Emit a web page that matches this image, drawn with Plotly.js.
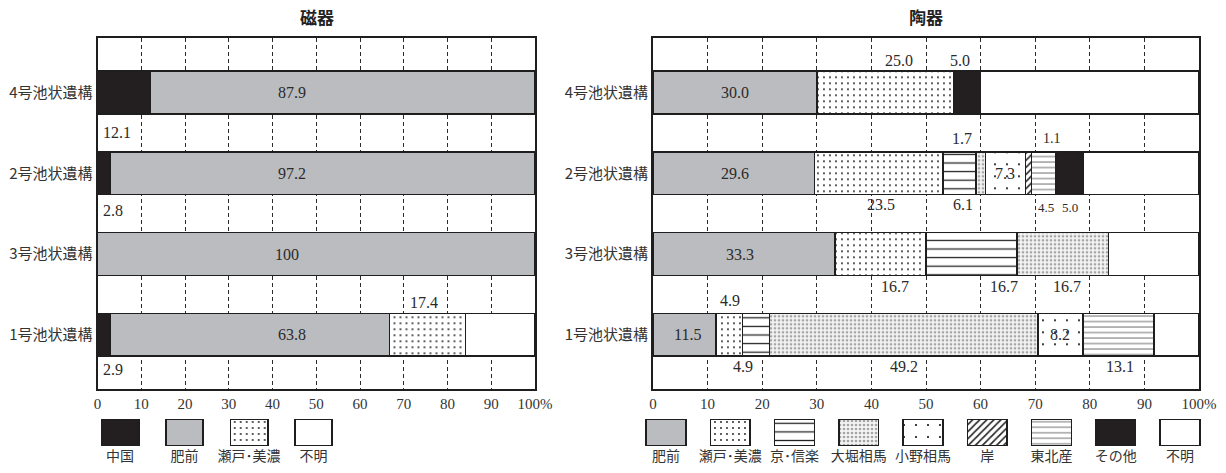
<!DOCTYPE html>
<html>
<head>
<meta charset="utf-8">
<script src="https://cdn.plot.ly/plotly-3.0.1.min.js"></script>
<style>html,body{margin:0;padding:0;background:#fff;}#chart{width:1226px;height:473px;}</style>
</head>
<body>
<div id="chart"></div>
<script>
// ---------- data ----------
const categories = ['4号池状遺構', '2号池状遺構', '3号池状遺構', '1号池状遺構'];
const xTickVals = [0, 10, 20, 30, 40, 50, 60, 70, 80, 90, 100];
const xTickText = ['0', '10', '20', '30', '40', '50', '60', '70', '80', '90', '100%'];

// 磁器 (left)
const leftTitle = '磁器';
const leftSeries = ['中国', '肥前', '瀬戸･美濃', '不明'];
const chugokuL = [12.1, 2.8, null, 2.9];
const hizenL   = [87.9, 97.2, 100, 63.8];
const setoL    = [null, null, null, 17.4];
const fumeiL   = [null, null, null, 15.9];
const leftValues = [chugokuL, hizenL, setoL, fumeiL];

// 陶器 (right)
const rightTitle = '陶器';
const rightSeries = ['肥前', '瀬戸･美濃', '京･信楽', '大堀相馬', '小野相馬', '岸', '東北産', 'その他', '不明'];
const hizenR   = [30.0, 29.6, 33.3, 11.5];
const setoR    = [25.0, 23.5, 16.7, 4.9];
const kyoR     = [null, 6.1, 16.7, 4.9];
const ohoriR   = [null, 1.7, 16.7, 49.2];
const onoR     = [null, 7.3, null, 8.2];
const kishiR   = [null, 1.1, null, null];
const tohokuR  = [null, 4.5, null, 13.1];
const sonotaR  = [5.0, 5.0, null, null];
const fumeiR   = [40.0, 21.2, 16.6, 8.2];
const rightValues = [hizenR, setoR, kyoR, ohoriR, onoR, kishiR, tohokuR, sonotaR, fumeiR];

// ---------- styles ----------
const LINE = {color: '#1e1e1e', width: 1.6};
function pat(shape, size, solidity, fg, bg) {
  return {shape: shape, size: size, solidity: solidity, fgcolor: fg, bgcolor: bg || '#ffffff', fillmode: 'replace'};
}
const styles = {
  '中国':     {color: '#231f20'},
  '肥前':     {color: '#bbbcc0'},
  '瀬戸･美濃': {color: '#ffffff', pattern: pat('.', 6, 0.08, '#222')},
  '京･信楽':   {color: '#ffffff', pattern: pat('-', 8.6, 0.15, '#222')},
  '大堀相馬':  {color: '#f2f2f2', pattern: pat('.', 4, 0.35, '#a5a5a5', '#f4f4f4')},
  '小野相馬':  {color: '#ffffff', pattern: pat('.', 12, 0.025, '#111')},
  '岸':       {color: '#ffffff', pattern: pat('/', 5, 0.32, '#222')},
  '東北産':    {color: '#ffffff', pattern: pat('-', 5.5, 0.15, '#555')},
  'その他':    {color: '#231f20'},
  '不明':     {color: '#ffffff'}
};
function marker(name) {
  const s = styles[name];
  const m = {color: s.color, line: LINE};
  if (s.pattern) m.pattern = s.pattern;
  return m;
}

// ---------- traces ----------
const traces = [];
leftSeries.forEach((name, i) => {
  traces.push({type: 'bar', orientation: 'h', name: name, x: leftValues[i], y: categories,
    xaxis: 'x', yaxis: 'y', width: 0.53, marker: marker(name), hoverinfo: 'x+name', showlegend: false});
});
rightSeries.forEach((name, i) => {
  traces.push({type: 'bar', orientation: 'h', name: name, x: rightValues[i], y: categories,
    xaxis: 'x2', yaxis: 'y2', width: 0.53, marker: marker(name), hoverinfo: 'x+name', showlegend: false});
});
// legend swatches as small bar charts
leftSeries.forEach((name) => {
  traces.push({type: 'bar', x: [name], y: [1], xaxis: 'x3', yaxis: 'y3', width: 0.58,
    marker: marker(name), hoverinfo: 'skip', showlegend: false});
});
rightSeries.forEach((name) => {
  traces.push({type: 'bar', x: [name], y: [1], xaxis: 'x4', yaxis: 'y4', width: 0.62,
    marker: marker(name), hoverinfo: 'skip', showlegend: false});
});

// ---------- layout ----------
const W = 1226, H = 473;
const px = v => v / W;
const py = v => 1 - v / H;
const numFont = {family: 'Liberation Serif, DejaVu Serif, serif', size: 16, color: '#2a2a2a'};
const jpFont = {family: 'Noto Sans CJK JP, sans-serif', size: 15, color: '#333'};

function mainX(domain) {
  return {domain: domain, range: [0, 100], tickvals: xTickVals, ticktext: xTickText,
    showgrid: true, gridcolor: '#2a2a2a', gridwidth: 1, griddash: '4px,3px', zeroline: false,
    showline: true, linecolor: '#1e1e1e', linewidth: 2, mirror: true, ticks: '',
    tickfont: {family: 'Liberation Serif, DejaVu Serif, serif', size: 15, color: '#333'}, fixedrange: true};
}
function mainY(domain, anchor) {
  return {domain: domain, type: 'category', categoryorder: 'array', categoryarray: categories,
    range: [3.67, -0.67], showgrid: false, zeroline: false, showline: true, linecolor: '#1e1e1e',
    linewidth: 2, mirror: true, ticks: '', tickfont: jpFont, anchor: anchor, fixedrange: true};
}
const yDom = [py(389), py(38.3)];
const legYDom = [py(446), py(419)];

function fmt(v) { return v === 100 ? '100' : v.toFixed(1); }
// value labels: [value, x position (data units), row position (category index)]
const labelsL = [
  [hizenL[0], 44.5, 0], [hizenL[1], 44.5, 1], [hizenL[2], 43.4, 2], [hizenL[3], 44.5, 3],
  [setoL[3], 74.7, 2.6]
];
const labelsLLeft = [[chugokuL[0], 0.7, 0.49], [chugokuL[1], 0.9, 1.46], [chugokuL[3], 0.9, 3.43]];
const labelsR = [
  [hizenR[0], 15, 0], [setoR[0], 45, -0.4], [sonotaR[0], 56.3, -0.4],
  [hizenR[1], 15, 1], [ohoriR[1], 56.6, 0.57], [onoR[1], 64.5, 1],
  [setoR[1], 41.8, 1.39], [kyoR[1], 56.7, 1.39],
  [hizenR[2], 16, 2], [setoR[2], 44.3, 2.4], [kyoR[2], 64.3, 2.4], [ohoriR[2], 75.9, 2.4],
  [setoR[3], 14.1, 2.58], [hizenR[3], 6.3, 3], [onoR[3], 74.5, 3],
  [kyoR[3], 16.4, 3.39], [ohoriR[3], 46, 3.39], [tohokuR[3], 85.5, 3.39]
];
const labelsRSmall = [[kishiR[1], 73.1, 0.57, 14], [tohokuR[1], 72, 1.42, 13], [sonotaR[1], 76.3, 1.42, 13]];

const annotations = [];
labelsL.forEach(([v, x, y]) => annotations.push({xref: 'x', yref: 'y', x: x, y: y, text: fmt(v),
  showarrow: false, font: numFont}));
labelsLLeft.forEach(([v, x, y]) => annotations.push({xref: 'x', yref: 'y', x: x, y: y, text: fmt(v),
  showarrow: false, xanchor: 'left', font: numFont}));
labelsR.forEach(([v, x, y]) => annotations.push({xref: 'x2', yref: 'y2', x: x, y: y, text: fmt(v),
  showarrow: false, font: numFont}));
labelsRSmall.forEach(([v, x, y, s]) => annotations.push({xref: 'x2', yref: 'y2', x: x, y: y, text: fmt(v),
  showarrow: false, font: Object.assign({}, numFont, {size: s})}));
const titleFont = {family: 'Noto Sans CJK JP, sans-serif', size: 17, color: '#222'};
annotations.push({xref: 'paper', yref: 'paper', x: px(317), y: py(17), xanchor: 'center', yanchor: 'middle',
  text: '<b>' + leftTitle + '</b>', showarrow: false, font: titleFont});
annotations.push({xref: 'paper', yref: 'paper', x: px(926), y: py(17), xanchor: 'center', yanchor: 'middle',
  text: '<b>' + rightTitle + '</b>', showarrow: false, font: titleFont});

const legX = {showgrid: false, zeroline: false, showline: false, ticks: '', type: 'category',
  tickfont: {family: 'Noto Sans CJK JP, sans-serif', size: 14, color: '#333'}, fixedrange: true};
const legY = {domain: legYDom, range: [0, 1], visible: false, fixedrange: true};

const layout = {
  width: W, height: H, margin: {l: 0, r: 0, t: 0, b: 0},
  paper_bgcolor: '#ffffff', plot_bgcolor: '#ffffff',
  barmode: 'stack', showlegend: false,
  xaxis: mainX([px(97.5), px(535)]),
  yaxis: mainY(yDom, 'x'),
  xaxis2: mainX([px(653), px(1199)]),
  yaxis2: mainY(yDom, 'x2'),
  xaxis3: Object.assign({}, legX, {domain: [px(87.75), px(345.75)], anchor: 'y3', range: [-0.5, 3.5]}),
  yaxis3: Object.assign({}, legY, {anchor: 'x3'}),
  xaxis4: Object.assign({}, legX, {domain: [px(634), px(1212)], anchor: 'y4', range: [-0.5, 8.5]}),
  yaxis4: Object.assign({}, legY, {anchor: 'x4'}),
  annotations: annotations
};
layout.xaxis.anchor = 'y';
layout.xaxis2.anchor = 'y2';

Plotly.newPlot('chart', traces, layout, {staticPlot: true, displayModeBar: false});
</script>
</body>
</html>
